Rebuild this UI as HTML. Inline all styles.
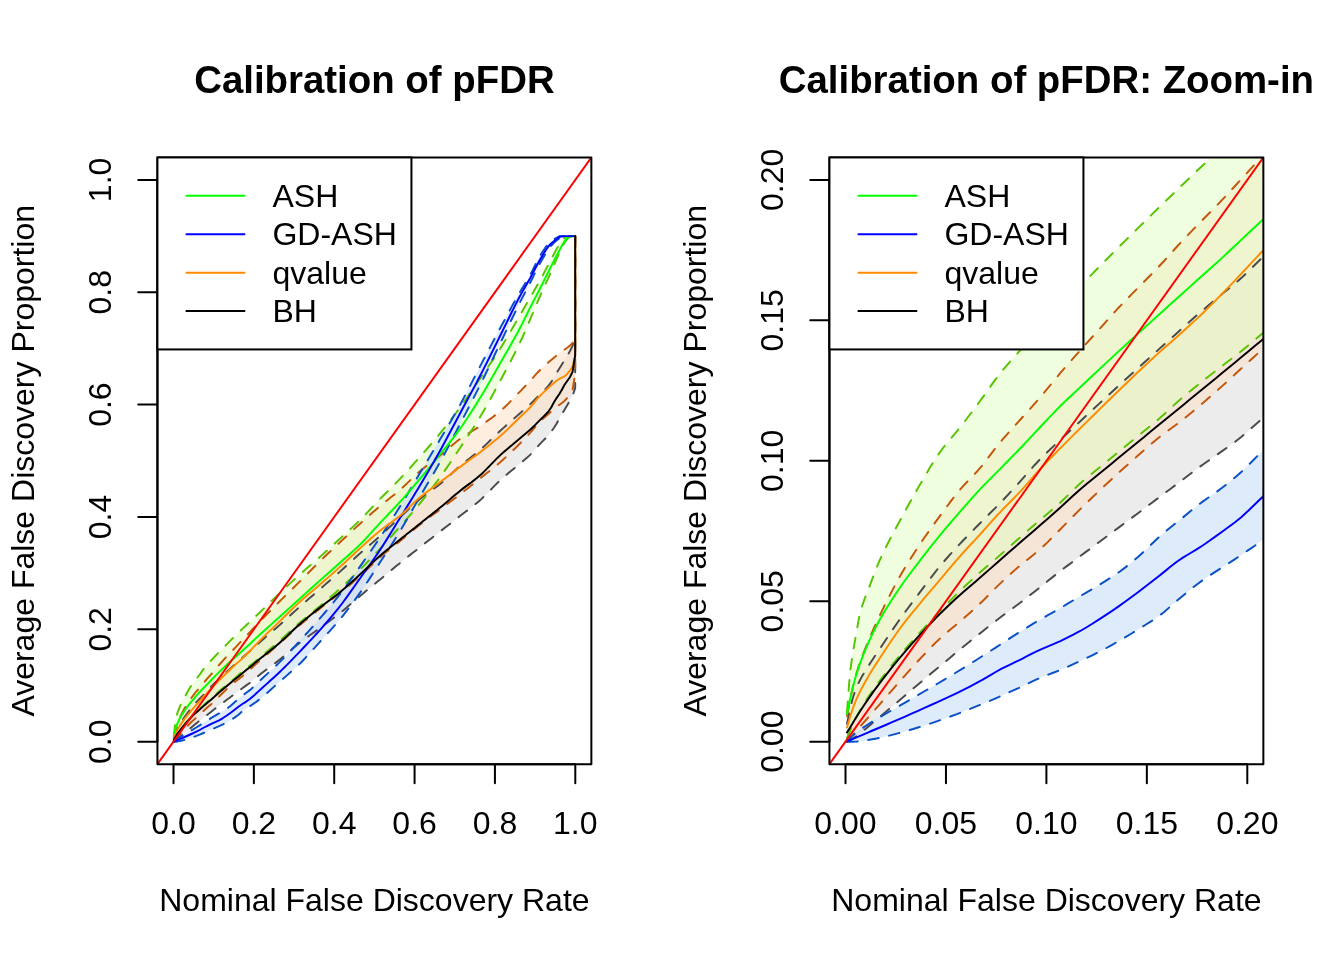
<!DOCTYPE html>
<html lang="en"><head><meta charset="utf-8"><title>Calibration of pFDR</title>
<style>
html,body{margin:0;padding:0;background:#fff;}
svg{display:block;font-family:"Liberation Sans",sans-serif;}
.ax{stroke:#000;stroke-width:2;fill:none;stroke-linecap:round;stroke-linejoin:round}
.t{font-size:32px;fill:#000}
.h{font-size:38.4px;font-weight:bold;fill:#000}
</style></head><body>
<svg width="1344" height="960" viewBox="0 0 1344 960">
<rect width="1344" height="960" fill="#fff"/>
<g id="panel0">
<clipPath id="c0"><rect x="157.44" y="157.44" width="433.92" height="606.72"/></clipPath>
<g clip-path="url(#c0)">
<path d="M173.81 741.65L175.59 740.64L177.38 739.24L179.17 737.76L180.95 736.25L184.13 733.54L188.02 730.24L191.9 726.98L195.78 723.77L199.66 720.61L203.54 717.55L207.42 714.67L211.31 711.68L215.19 708.58L219.07 705.61L222.95 702.72L226.83 699.84L230.71 696.96L234.59 694.05L238.48 691.14L242.36 688.21L246.24 685.38L250.12 682.66L254 679.61L255.3 678.45L256.59 677.31L257.88 676.24L260.55 674.11L263.22 672.06L265.88 670.05L268.55 668.08L271.22 666.1L273.88 664.12L276.55 662.1L279.22 660.02L281.88 657.87L284.55 655.64L287.22 653.36L289.88 651.05L292.55 648.75L295.22 646.49L297.88 644.29L300.55 642.17L303.22 640.14L305.88 638.17L308.55 636.24L311.21 634.33L313.88 632.43L316.55 630.52L319.21 628.58L321.88 626.61L324.55 624.65L327.21 622.7L329.88 620.73L332.55 618.74L335.21 616.73L337.88 614.67L340.55 612.56L343.21 610.38L345.88 608.14L348.55 605.85L351.21 603.54L353.88 601.23L356.55 598.93L359.21 596.66L361.88 594.44L364.55 592.24L367.21 590.05L369.88 587.87L372.54 585.7L375.21 583.53L377.88 581.35L380.54 579.15L383.21 576.94L385.88 574.71L388.54 572.48L391.21 570.25L393.88 568.03L396.54 565.82L399.21 563.64L401.88 561.49L404.54 559.35L407.21 557.24L409.88 555.14L412.54 553.04L415.21 550.95L417.88 548.87L420.54 546.77L423.21 544.69L425.87 542.6L428.54 540.52L431.21 538.45L433.87 536.37L436.54 534.3L439.21 532.22L441.87 530.14L444.54 528.06L447.21 525.98L449.87 523.9L452.54 521.83L455.21 519.75L457.87 517.66L460.54 515.58L463.21 513.53L465.87 511.51L468.54 509.49L471.21 507.46L473.87 505.38L476.54 503.23L479.21 500.99L481.87 498.61L484.54 496.06L487.2 493.38L489.87 490.63L492.54 487.87L495.2 485.14L497.87 482.5L500.54 480.01L503.2 477.63L505.87 475.32L508.54 473.06L511.2 470.84L513.87 468.63L516.54 466.41L519.2 464.18L521.87 461.94L524.54 459.77L527.2 457.54L529.87 455.13L532.54 452.4L535.2 449.43L537.87 446.37L540.54 443.42L543.2 440.67L545.87 437.95L548.53 435.05L551.2 431.75L553.87 427.94L556.53 423.66L559.2 418.9L561.87 414.27L564.53 409.69L567.2 405.22L569.87 400.73L572.53 395.93L575.2 388L575.2 236.09L575.2 236.09L575.2 336L572.53 345.91L569.87 351.24L567.2 355.81L564.53 360.17L561.87 364.48L559.2 368.81L556.53 373.19L553.87 377.6L551.2 382.07L548.53 385.63L545.87 388.57L543.2 391.24L540.54 393.86L537.87 396.57L535.2 399.25L532.54 401.87L529.87 404.42L527.2 406.88L524.54 409.27L521.87 411.64L519.2 414.01L516.54 416.37L513.87 418.71L511.2 421.04L508.54 423.37L505.87 425.72L503.2 428.1L500.54 430.51L497.87 432.98L495.2 435.53L492.54 438.13L489.87 440.75L487.2 443.34L484.54 445.88L481.87 448.34L479.21 450.68L476.54 452.91L473.87 455.04L471.21 457.12L468.54 459.18L465.87 461.25L463.21 463.36L460.54 465.55L457.87 467.84L455.21 470.24L452.54 472.7L449.87 475.19L447.21 477.67L444.54 480.09L441.87 482.43L439.21 484.64L436.54 486.72L433.87 488.7L431.21 490.62L428.54 492.53L425.87 494.46L423.21 496.45L420.54 498.56L417.88 500.79L415.21 503.12L412.54 505.54L409.88 508.01L407.21 510.52L404.54 513.04L401.88 515.55L399.21 518.03L396.54 520.54L393.88 523.07L391.21 525.61L388.54 528.15L385.88 530.67L383.21 533.16L380.54 535.61L377.88 537.99L375.21 540.32L372.54 542.62L369.88 544.89L367.21 547.16L364.55 549.44L361.88 551.75L359.21 554.1L356.55 556.5L353.88 558.93L351.21 561.37L348.55 563.82L345.88 566.27L343.21 568.71L340.55 571.11L337.88 573.48L335.21 575.84L332.55 578.17L329.88 580.5L327.21 582.82L324.55 585.13L321.88 587.46L319.21 589.79L316.55 592.11L313.88 594.43L311.21 596.76L308.55 599.08L305.88 601.41L303.22 603.75L300.55 606.11L297.88 608.49L295.22 610.9L292.55 613.33L289.88 615.76L287.22 618.19L284.55 620.62L281.88 623.02L279.22 625.39L276.55 627.72L273.88 630.02L271.22 632.3L268.55 634.57L265.88 636.86L263.22 639.17L260.55 641.52L257.88 643.94L256.59 645.14L255.3 646.41L254 647.69L250.12 651.11L246.24 654.31L242.36 657.66L238.48 661.15L234.59 664.64L230.71 668.15L226.83 671.7L222.95 675.28L219.07 678.9L215.19 682.53L211.31 686.4L207.42 690.75L203.54 694.88L199.66 698.75L195.78 702.79L191.9 707.2L188.02 712.31L184.13 717.54L180.95 722.24L179.17 724.89L177.38 727.67L175.59 731.11L173.81 738.15Z" fill="#d9d9d9" fill-opacity="0.5" stroke="none"/>
<path d="M173.81 741.65L175.59 739.65L177.38 737.6L179.17 735.57L180.95 733.53L184.13 729.88L188.02 725.55L191.9 721.53L195.78 718.21L199.66 714.77L203.54 710.92L207.42 707.32L211.31 704.16L215.19 700.51L219.07 696.57L222.95 692.76L226.83 689.11L230.71 685.6L234.59 682.19L238.48 679.14L242.36 676.17L246.24 672.87L250.12 669.39L254 665.83L255.3 664.65L256.59 663.48L257.88 662.32L260.55 659.96L263.22 657.62L265.88 655.3L268.55 652.99L271.22 650.68L273.88 648.36L276.55 646.04L279.22 643.69L281.88 641.32L284.55 638.91L287.22 636.48L289.88 634.04L292.55 631.61L295.22 629.21L297.88 626.84L300.55 624.53L303.22 622.25L305.88 620.01L308.55 617.79L311.21 615.6L313.88 613.43L316.55 611.27L319.21 609.13L321.88 607.01L324.55 604.94L327.21 602.9L329.88 600.87L332.55 598.84L335.21 596.79L337.88 594.7L340.55 592.56L343.21 590.38L345.88 588.17L348.55 585.93L351.21 583.67L353.88 581.37L356.55 579.05L359.21 576.7L361.88 574.3L364.55 571.82L367.21 569.28L369.88 566.72L372.54 564.16L375.21 561.64L377.88 559.18L380.54 556.83L383.21 554.56L385.88 552.35L388.54 550.19L391.21 548.05L393.88 545.93L396.54 543.8L399.21 541.64L401.88 539.46L404.54 537.25L407.21 535.04L409.88 532.82L412.54 530.62L415.21 528.44L417.88 526.29L420.54 524.17L423.21 522.11L425.87 520.07L428.54 518.06L431.21 516.07L433.87 514.08L436.54 512.1L439.21 510.1L441.87 508.09L444.54 506.09L447.21 504.09L449.87 502.09L452.54 500.09L455.21 498.07L457.87 496.04L460.54 493.98L463.21 491.9L465.87 489.8L468.54 487.68L471.21 485.55L473.87 483.41L476.54 481.27L479.21 479.14L481.87 477.01L484.54 474.91L487.2 472.82L489.87 470.73L492.54 468.6L495.2 466.44L497.87 464.22L500.54 461.93L503.2 459.57L505.87 457.14L508.54 454.66L511.2 452.13L513.87 449.56L516.54 446.94L519.2 444.3L521.87 441.61L524.54 438.86L527.2 436.03L529.87 433.14L532.54 430.08L535.2 426.88L537.87 423.77L540.54 420.97L543.2 418.5L545.87 416.2L548.53 413.96L551.2 411.65L553.87 409.35L556.53 407.15L559.2 405.03L561.87 403.02L564.53 400.94L567.2 397.95L569.87 394.19L572.53 389.92L575.2 374L575.2 236.09L575.2 236.09L575.2 336L572.53 342.95L569.87 345.62L567.2 347.7L564.53 349.65L561.87 351.62L559.2 353.6L556.53 355.6L553.87 357.72L551.2 359.96L548.53 362.27L545.87 364.58L543.2 366.96L540.54 369.47L537.87 372.21L535.2 375.17L532.54 378.19L529.87 381.14L527.2 383.99L524.54 386.8L521.87 389.58L519.2 392.32L516.54 395.08L513.87 397.86L511.2 400.62L508.54 403.33L505.87 405.96L503.2 408.47L500.54 410.84L497.87 413.06L495.2 415.17L492.54 417.18L489.87 419.13L487.2 421.02L484.54 422.87L481.87 424.71L479.21 426.54L476.54 428.31L473.87 430L471.21 431.66L468.54 433.32L465.87 435.01L463.21 436.76L460.54 438.61L457.87 440.59L455.21 442.7L452.54 444.9L449.87 447.16L447.21 449.45L444.54 451.73L441.87 453.97L439.21 456.13L436.54 458.23L433.87 460.28L431.21 462.31L428.54 464.35L425.87 466.42L423.21 468.54L420.54 470.74L417.88 473.05L415.21 475.49L412.54 478.01L409.88 480.58L407.21 483.15L404.54 485.68L401.88 488.14L399.21 490.48L396.54 492.73L393.88 494.91L391.21 497.04L388.54 499.16L385.88 501.28L383.21 503.44L380.54 505.64L377.88 507.91L375.21 510.2L372.54 512.52L369.88 514.86L367.21 517.23L364.55 519.61L361.88 522L359.21 524.41L356.55 526.85L353.88 529.31L351.21 531.79L348.55 534.28L345.88 536.78L343.21 539.28L340.55 541.79L337.88 544.28L335.21 546.78L332.55 549.27L329.88 551.77L327.21 554.28L324.55 556.82L321.88 559.38L319.21 561.97L316.55 564.6L313.88 567.27L311.21 569.97L308.55 572.67L305.88 575.38L303.22 578.08L300.55 580.75L297.88 583.4L295.22 586.03L292.55 588.64L289.88 591.25L287.22 593.86L284.55 596.48L281.88 599.12L279.22 601.78L276.55 604.46L273.88 607.13L271.22 609.81L268.55 612.51L265.88 615.22L263.22 617.96L260.55 620.73L257.88 623.53L256.59 624.9L255.3 626.31L254 627.73L250.12 631.95L246.24 635.99L242.36 639.96L238.48 644.15L234.59 648.3L230.71 652.22L226.83 656.31L222.95 660.65L219.07 665L215.19 669.5L211.31 674.13L207.42 678.44L203.54 682.93L199.66 687.81L195.78 692.04L191.9 697.23L188.02 702.76L184.13 709.08L180.95 715.23L179.17 719.04L177.38 723.27L175.59 728.37L173.81 736.55Z" fill="#fedec0" fill-opacity="0.5" stroke="none"/>
<path d="M173.81 740.95L175.59 736.94L177.38 733.85L179.17 731.17L180.95 728.73L184.13 724.74L188.02 720.29L191.9 716.1L195.78 712.14L199.66 708.5L203.54 705.14L207.42 701.7L211.31 698.3L215.19 695L219.07 691.34L222.95 687.95L226.83 684.78L230.71 681.6L234.59 678.46L238.48 675.05L242.36 671.64L246.24 668.54L250.12 665.55L254 662.49L255.3 661.4L256.59 660.31L257.88 659.22L260.55 656.99L263.22 654.77L265.88 652.53L268.55 650.3L271.22 648.05L273.88 645.78L276.55 643.5L279.22 641.18L281.88 638.83L284.55 636.43L287.22 633.98L289.88 631.52L292.55 629.06L295.22 626.63L297.88 624.25L300.55 621.93L303.22 619.68L305.88 617.49L308.55 615.33L311.21 613.18L313.88 611.04L316.55 608.87L319.21 606.66L321.88 604.41L324.55 602.15L327.21 599.87L329.88 597.57L332.55 595.25L335.21 592.9L337.88 590.52L340.55 588.1L343.21 585.65L345.88 583.16L348.55 580.64L351.21 578.09L353.88 575.52L356.55 572.91L359.21 570.28L361.88 567.63L364.55 564.94L367.21 562.22L369.88 559.47L372.54 556.69L375.21 553.89L377.88 551.07L380.54 548.22L383.21 545.33L385.88 542.42L388.54 539.48L391.21 536.51L393.88 533.52L396.54 530.51L399.21 527.5L401.88 524.47L404.54 521.45L407.21 518.42L409.88 515.37L412.54 512.29L415.21 509.16L417.88 505.98L420.54 502.73L423.21 499.43L425.87 496.08L428.54 492.67L431.21 489.21L433.87 485.69L436.54 482.12L439.21 478.49L441.87 474.79L444.54 471L447.21 467.13L449.87 463.2L452.54 459.22L455.21 455.22L457.87 451.2L460.54 447.19L463.21 443.2L465.87 439.21L468.54 435.2L471.21 431.15L473.87 427.04L476.54 422.83L479.21 418.51L481.87 414.06L484.54 409.46L487.2 404.75L489.87 399.95L492.54 395.07L495.2 390.13L497.87 385.17L500.54 380.2L503.2 375.23L505.87 370.25L508.54 365.23L511.2 360.14L513.87 354.95L516.54 349.63L519.2 344.17L521.87 338.48L524.54 332.52L527.2 326.39L529.87 320.2L532.54 313.93L535.2 307.52L537.87 301.15L540.54 294.99L543.2 289.11L545.87 283.36L548.53 277.57L551.2 271.54L553.87 265.3L556.53 259.21L559.2 253.28L561.87 247.66L564.53 242.67L567.2 239.04L569.87 236.83L572.53 236.5L575.2 236.1L575.2 236.1L572.53 236.1L569.87 236.1L567.2 236.62L564.53 237.76L561.87 240.59L559.2 244.39L556.53 249.13L553.87 254.1L551.2 259.21L548.53 264.28L545.87 269.35L543.2 274.38L540.54 279.32L537.87 284.13L535.2 288.84L532.54 293.49L529.87 298.13L527.2 302.75L524.54 307.34L521.87 311.9L519.2 316.46L516.54 321.06L513.87 325.68L511.2 330.3L508.54 334.88L505.87 339.4L503.2 343.83L500.54 348.15L497.87 352.32L495.2 356.39L492.54 360.37L489.87 364.28L487.2 368.16L484.54 372.01L481.87 375.87L479.21 379.76L476.54 383.68L473.87 387.6L471.21 391.52L468.54 395.41L465.87 399.26L463.21 403.05L460.54 406.76L457.87 410.4L455.21 413.99L452.54 417.53L449.87 421.02L447.21 424.46L444.54 427.85L441.87 431.19L439.21 434.47L436.54 437.68L433.87 440.84L431.21 443.94L428.54 447.01L425.87 450.05L423.21 453.07L420.54 456.09L417.88 459.1L415.21 462.11L412.54 465.11L409.88 468.08L407.21 471.02L404.54 473.94L401.88 476.81L399.21 479.63L396.54 482.39L393.88 485.09L391.21 487.76L388.54 490.41L385.88 493.06L383.21 495.73L380.54 498.44L377.88 501.21L375.21 504.03L372.54 506.88L369.88 509.74L367.21 512.58L364.55 515.38L361.88 518.12L359.21 520.77L356.55 523.35L353.88 525.87L351.21 528.35L348.55 530.8L345.88 533.23L343.21 535.66L340.55 538.1L337.88 540.55L335.21 543L332.55 545.44L329.88 547.88L327.21 550.3L324.55 552.72L321.88 555.12L319.21 557.5L316.55 559.85L313.88 562.17L311.21 564.48L308.55 566.78L305.88 569.1L303.22 571.43L300.55 573.81L297.88 576.22L295.22 578.66L292.55 581.12L289.88 583.6L287.22 586.09L284.55 588.6L281.88 591.12L279.22 593.64L276.55 596.19L273.88 598.76L271.22 601.35L268.55 603.95L265.88 606.55L263.22 609.13L260.55 611.71L257.88 614.26L256.59 615.48L255.3 616.7L254 617.9L250.12 621.54L246.24 625.21L242.36 628.9L238.48 632.64L234.59 636.42L230.71 640.24L226.83 644.11L222.95 648.03L219.07 652.02L215.19 656.08L211.31 660.25L207.42 664.55L203.54 669.18L199.66 674.58L195.78 679.63L191.9 684.49L188.02 690.93L184.13 697.96L180.95 704.07L179.17 708.32L177.38 712.98L175.59 720.39L173.81 735.75Z" fill="#dffdc0" fill-opacity="0.5" stroke="none"/>
<path d="M173.81 741.69L175.59 741.68L177.38 741.46L179.17 741.16L180.95 740.79L184.13 739.99L188.02 738.85L191.9 737.57L195.78 736.17L199.66 734.64L203.54 733.01L207.42 731.28L211.31 729.43L215.19 727.85L219.07 726.19L222.95 724.36L226.83 722.31L230.71 720.05L234.59 717.64L238.48 714.66L242.36 711.36L246.24 708.52L250.12 706L254 703.43L255.3 702.54L256.59 701.6L257.88 700.62L260.55 698.51L263.22 696.3L265.88 694.01L268.55 691.66L271.22 689.28L273.88 686.87L276.55 684.47L279.22 682.09L281.88 679.75L284.55 677.44L287.22 675.13L289.88 672.81L292.55 670.45L295.22 668.04L297.88 665.55L300.55 662.96L303.22 660.24L305.88 657.42L308.55 654.51L311.21 651.55L313.88 648.55L316.55 645.55L319.21 642.57L321.88 639.63L324.55 636.72L327.21 633.82L329.88 630.9L332.55 627.95L335.21 624.93L337.88 621.84L340.55 618.63L343.21 615.33L345.88 611.95L348.55 608.48L351.21 604.93L353.88 601.32L356.55 597.65L359.21 593.91L361.88 590.11L364.55 586.19L367.21 582.18L369.88 578.1L372.54 573.97L375.21 569.82L377.88 565.68L380.54 561.56L383.21 557.47L385.88 553.39L388.54 549.3L391.21 545.18L393.88 541.02L396.54 536.8L399.21 532.49L401.88 528.08L404.54 523.56L407.21 518.95L409.88 514.27L412.54 509.57L415.21 504.87L417.88 500.19L420.54 495.57L423.21 491.01L425.87 486.5L428.54 482.01L431.21 477.51L433.87 472.96L436.54 468.34L439.21 463.62L441.87 458.79L444.54 453.84L447.21 448.79L449.87 443.69L452.54 438.54L455.21 433.37L457.87 428.2L460.54 423.06L463.21 417.95L465.87 412.84L468.54 407.72L471.21 402.59L473.87 397.41L476.54 392.18L479.21 386.89L481.87 381.52L484.54 376.05L487.2 370.52L489.87 364.94L492.54 359.33L495.2 353.72L497.87 348.13L500.54 342.58L503.2 337.02L505.87 331.44L508.54 325.85L511.2 320.28L513.87 314.75L516.54 309.28L519.2 303.89L521.87 298.62L524.54 293.49L527.2 288.39L529.87 283.25L532.54 277.94L535.2 272.51L537.87 267.24L540.54 262.36L543.2 257.71L545.87 253.29L548.53 249.27L551.2 245.81L553.87 242.87L556.53 240.44L559.2 238.44L561.87 237.08L564.53 236.22L567.2 236.2L569.87 236.2L572.53 236.2L575.2 236.1L575.2 236.1L572.53 236.1L569.87 236.1L567.2 236.1L564.53 236.1L561.87 236.1L559.2 236.22L556.53 237.76L553.87 239.46L551.2 241.16L548.53 243.52L545.87 246.79L543.2 250.7L540.54 254.94L537.87 259.58L535.2 264.95L532.54 270.5L529.87 275.63L527.2 280.18L524.54 284.47L521.87 288.76L519.2 293.28L516.54 297.97L513.87 302.76L511.2 307.63L508.54 312.56L505.87 317.53L503.2 322.51L500.54 327.5L497.87 332.48L495.2 337.5L492.54 342.55L489.87 347.62L487.2 352.71L484.54 357.82L481.87 362.92L479.21 368.02L476.54 373.19L473.87 378.4L471.21 383.62L468.54 388.83L465.87 393.99L463.21 399.06L460.54 404.01L457.87 408.83L455.21 413.55L452.54 418.19L449.87 422.77L447.21 427.3L444.54 431.81L441.87 436.32L439.21 440.85L436.54 445.35L433.87 449.83L431.21 454.29L428.54 458.74L425.87 463.19L423.21 467.64L420.54 472.09L417.88 476.57L415.21 481.08L412.54 485.6L409.88 490.12L407.21 494.62L404.54 499.07L401.88 503.46L399.21 507.77L396.54 512.03L393.88 516.24L391.21 520.4L388.54 524.53L385.88 528.61L383.21 532.67L380.54 536.68L377.88 540.67L375.21 544.61L372.54 548.51L369.88 552.38L367.21 556.22L364.55 560.04L361.88 563.84L359.21 567.62L356.55 571.41L353.88 575.2L351.21 578.97L348.55 582.7L345.88 586.38L343.21 589.98L340.55 593.49L337.88 596.91L335.21 600.24L332.55 603.5L329.88 606.71L327.21 609.88L324.55 613.01L321.88 616.11L319.21 619.21L316.55 622.28L313.88 625.32L311.21 628.32L308.55 631.31L305.88 634.26L303.22 637.19L300.55 640.1L297.88 643L295.22 645.89L292.55 648.76L289.88 651.6L287.22 654.41L284.55 657.19L281.88 659.91L279.22 662.58L276.55 665.17L273.88 667.7L271.22 670.19L268.55 672.65L265.88 675.1L263.22 677.56L260.55 680.05L257.88 682.58L256.59 683.84L255.3 685.15L254 686.46L250.12 689.9L246.24 692.77L242.36 695.7L238.48 698.85L234.59 702.3L230.71 705.84L226.83 708.71L222.95 711.11L219.07 713.4L215.19 715.71L211.31 717.94L207.42 720.34L203.54 722.87L199.66 725.34L195.78 727.76L191.9 730.09L188.02 732.36L184.13 734.61L180.95 736.45L179.17 737.51L177.38 738.64L175.59 739.92L173.81 741.65Z" fill="#bdd7f7" fill-opacity="0.5" stroke="none"/>
<path d="M173.81 741.65L175.59 740.64L177.38 739.24L179.17 737.76L180.95 736.25L184.13 733.54L188.02 730.24L191.9 726.98L195.78 723.77L199.66 720.61L203.54 717.55L207.42 714.67L211.31 711.68L215.19 708.58L219.07 705.61L222.95 702.72L226.83 699.84L230.71 696.96L234.59 694.05L238.48 691.14L242.36 688.21L246.24 685.38L250.12 682.66L254 679.61L255.3 678.45L256.59 677.31L257.88 676.24L260.55 674.11L263.22 672.06L265.88 670.05L268.55 668.08L271.22 666.1L273.88 664.12L276.55 662.1L279.22 660.02L281.88 657.87L284.55 655.64L287.22 653.36L289.88 651.05L292.55 648.75L295.22 646.49L297.88 644.29L300.55 642.17L303.22 640.14L305.88 638.17L308.55 636.24L311.21 634.33L313.88 632.43L316.55 630.52L319.21 628.58L321.88 626.61L324.55 624.65L327.21 622.7L329.88 620.73L332.55 618.74L335.21 616.73L337.88 614.67L340.55 612.56L343.21 610.38L345.88 608.14L348.55 605.85L351.21 603.54L353.88 601.23L356.55 598.93L359.21 596.66L361.88 594.44L364.55 592.24L367.21 590.05L369.88 587.87L372.54 585.7L375.21 583.53L377.88 581.35L380.54 579.15L383.21 576.94L385.88 574.71L388.54 572.48L391.21 570.25L393.88 568.03L396.54 565.82L399.21 563.64L401.88 561.49L404.54 559.35L407.21 557.24L409.88 555.14L412.54 553.04L415.21 550.95L417.88 548.87L420.54 546.77L423.21 544.69L425.87 542.6L428.54 540.52L431.21 538.45L433.87 536.37L436.54 534.3L439.21 532.22L441.87 530.14L444.54 528.06L447.21 525.98L449.87 523.9L452.54 521.83L455.21 519.75L457.87 517.66L460.54 515.58L463.21 513.53L465.87 511.51L468.54 509.49L471.21 507.46L473.87 505.38L476.54 503.23L479.21 500.99L481.87 498.61L484.54 496.06L487.2 493.38L489.87 490.63L492.54 487.87L495.2 485.14L497.87 482.5L500.54 480.01L503.2 477.63L505.87 475.32L508.54 473.06L511.2 470.84L513.87 468.63L516.54 466.41L519.2 464.18L521.87 461.94L524.54 459.77L527.2 457.54L529.87 455.13L532.54 452.4L535.2 449.43L537.87 446.37L540.54 443.42L543.2 440.67L545.87 437.95L548.53 435.05L551.2 431.75L553.87 427.94L556.53 423.66L559.2 418.9L561.87 414.27L564.53 409.69L567.2 405.22L569.87 400.73L572.53 395.93L575.2 388L575.2 236.09" fill="none" stroke="#4a4a4c" stroke-width="1.95" stroke-dasharray="10.67 10.67" stroke-linecap="round" stroke-linejoin="round"/>
<path d="M173.81 738.15L175.59 731.11L177.38 727.67L179.17 724.89L180.95 722.24L184.13 717.54L188.02 712.31L191.9 707.2L195.78 702.79L199.66 698.75L203.54 694.88L207.42 690.75L211.31 686.4L215.19 682.53L219.07 678.9L222.95 675.28L226.83 671.7L230.71 668.15L234.59 664.64L238.48 661.15L242.36 657.66L246.24 654.31L250.12 651.11L254 647.69L255.3 646.41L256.59 645.14L257.88 643.94L260.55 641.52L263.22 639.17L265.88 636.86L268.55 634.57L271.22 632.3L273.88 630.02L276.55 627.72L279.22 625.39L281.88 623.02L284.55 620.62L287.22 618.19L289.88 615.76L292.55 613.33L295.22 610.9L297.88 608.49L300.55 606.11L303.22 603.75L305.88 601.41L308.55 599.08L311.21 596.76L313.88 594.43L316.55 592.11L319.21 589.79L321.88 587.46L324.55 585.13L327.21 582.82L329.88 580.5L332.55 578.17L335.21 575.84L337.88 573.48L340.55 571.11L343.21 568.71L345.88 566.27L348.55 563.82L351.21 561.37L353.88 558.93L356.55 556.5L359.21 554.1L361.88 551.75L364.55 549.44L367.21 547.16L369.88 544.89L372.54 542.62L375.21 540.32L377.88 537.99L380.54 535.61L383.21 533.16L385.88 530.67L388.54 528.15L391.21 525.61L393.88 523.07L396.54 520.54L399.21 518.03L401.88 515.55L404.54 513.04L407.21 510.52L409.88 508.01L412.54 505.54L415.21 503.12L417.88 500.79L420.54 498.56L423.21 496.45L425.87 494.46L428.54 492.53L431.21 490.62L433.87 488.7L436.54 486.72L439.21 484.64L441.87 482.43L444.54 480.09L447.21 477.67L449.87 475.19L452.54 472.7L455.21 470.24L457.87 467.84L460.54 465.55L463.21 463.36L465.87 461.25L468.54 459.18L471.21 457.12L473.87 455.04L476.54 452.91L479.21 450.68L481.87 448.34L484.54 445.88L487.2 443.34L489.87 440.75L492.54 438.13L495.2 435.53L497.87 432.98L500.54 430.51L503.2 428.1L505.87 425.72L508.54 423.37L511.2 421.04L513.87 418.71L516.54 416.37L519.2 414.01L521.87 411.64L524.54 409.27L527.2 406.88L529.87 404.42L532.54 401.87L535.2 399.25L537.87 396.57L540.54 393.86L543.2 391.24L545.87 388.57L548.53 385.63L551.2 382.07L553.87 377.6L556.53 373.19L559.2 368.81L561.87 364.48L564.53 360.17L567.2 355.81L569.87 351.24L572.53 345.91L575.2 336L575.2 236.09" fill="none" stroke="#4a4a4c" stroke-width="1.95" stroke-dasharray="10.67 10.67" stroke-linecap="round" stroke-linejoin="round"/>
<path d="M173.81 741.65L175.59 739.65L177.38 737.6L179.17 735.57L180.95 733.53L184.13 729.88L188.02 725.55L191.9 721.53L195.78 718.21L199.66 714.77L203.54 710.92L207.42 707.32L211.31 704.16L215.19 700.51L219.07 696.57L222.95 692.76L226.83 689.11L230.71 685.6L234.59 682.19L238.48 679.14L242.36 676.17L246.24 672.87L250.12 669.39L254 665.83L255.3 664.65L256.59 663.48L257.88 662.32L260.55 659.96L263.22 657.62L265.88 655.3L268.55 652.99L271.22 650.68L273.88 648.36L276.55 646.04L279.22 643.69L281.88 641.32L284.55 638.91L287.22 636.48L289.88 634.04L292.55 631.61L295.22 629.21L297.88 626.84L300.55 624.53L303.22 622.25L305.88 620.01L308.55 617.79L311.21 615.6L313.88 613.43L316.55 611.27L319.21 609.13L321.88 607.01L324.55 604.94L327.21 602.9L329.88 600.87L332.55 598.84L335.21 596.79L337.88 594.7L340.55 592.56L343.21 590.38L345.88 588.17L348.55 585.93L351.21 583.67L353.88 581.37L356.55 579.05L359.21 576.7L361.88 574.3L364.55 571.82L367.21 569.28L369.88 566.72L372.54 564.16L375.21 561.64L377.88 559.18L380.54 556.83L383.21 554.56L385.88 552.35L388.54 550.19L391.21 548.05L393.88 545.93L396.54 543.8L399.21 541.64L401.88 539.46L404.54 537.25L407.21 535.04L409.88 532.82L412.54 530.62L415.21 528.44L417.88 526.29L420.54 524.17L423.21 522.11L425.87 520.07L428.54 518.06L431.21 516.07L433.87 514.08L436.54 512.1L439.21 510.1L441.87 508.09L444.54 506.09L447.21 504.09L449.87 502.09L452.54 500.09L455.21 498.07L457.87 496.04L460.54 493.98L463.21 491.9L465.87 489.8L468.54 487.68L471.21 485.55L473.87 483.41L476.54 481.27L479.21 479.14L481.87 477.01L484.54 474.91L487.2 472.82L489.87 470.73L492.54 468.6L495.2 466.44L497.87 464.22L500.54 461.93L503.2 459.57L505.87 457.14L508.54 454.66L511.2 452.13L513.87 449.56L516.54 446.94L519.2 444.3L521.87 441.61L524.54 438.86L527.2 436.03L529.87 433.14L532.54 430.08L535.2 426.88L537.87 423.77L540.54 420.97L543.2 418.5L545.87 416.2L548.53 413.96L551.2 411.65L553.87 409.35L556.53 407.15L559.2 405.03L561.87 403.02L564.53 400.94L567.2 397.95L569.87 394.19L572.53 389.92L575.2 374L575.2 236.09" fill="none" stroke="#c4560a" stroke-width="1.95" stroke-dasharray="10.67 10.67" stroke-linecap="round" stroke-linejoin="round"/>
<path d="M173.81 736.55L175.59 728.37L177.38 723.27L179.17 719.04L180.95 715.23L184.13 709.08L188.02 702.76L191.9 697.23L195.78 692.04L199.66 687.81L203.54 682.93L207.42 678.44L211.31 674.13L215.19 669.5L219.07 665L222.95 660.65L226.83 656.31L230.71 652.22L234.59 648.3L238.48 644.15L242.36 639.96L246.24 635.99L250.12 631.95L254 627.73L255.3 626.31L256.59 624.9L257.88 623.53L260.55 620.73L263.22 617.96L265.88 615.22L268.55 612.51L271.22 609.81L273.88 607.13L276.55 604.46L279.22 601.78L281.88 599.12L284.55 596.48L287.22 593.86L289.88 591.25L292.55 588.64L295.22 586.03L297.88 583.4L300.55 580.75L303.22 578.08L305.88 575.38L308.55 572.67L311.21 569.97L313.88 567.27L316.55 564.6L319.21 561.97L321.88 559.38L324.55 556.82L327.21 554.28L329.88 551.77L332.55 549.27L335.21 546.78L337.88 544.28L340.55 541.79L343.21 539.28L345.88 536.78L348.55 534.28L351.21 531.79L353.88 529.31L356.55 526.85L359.21 524.41L361.88 522L364.55 519.61L367.21 517.23L369.88 514.86L372.54 512.52L375.21 510.2L377.88 507.91L380.54 505.64L383.21 503.44L385.88 501.28L388.54 499.16L391.21 497.04L393.88 494.91L396.54 492.73L399.21 490.48L401.88 488.14L404.54 485.68L407.21 483.15L409.88 480.58L412.54 478.01L415.21 475.49L417.88 473.05L420.54 470.74L423.21 468.54L425.87 466.42L428.54 464.35L431.21 462.31L433.87 460.28L436.54 458.23L439.21 456.13L441.87 453.97L444.54 451.73L447.21 449.45L449.87 447.16L452.54 444.9L455.21 442.7L457.87 440.59L460.54 438.61L463.21 436.76L465.87 435.01L468.54 433.32L471.21 431.66L473.87 430L476.54 428.31L479.21 426.54L481.87 424.71L484.54 422.87L487.2 421.02L489.87 419.13L492.54 417.18L495.2 415.17L497.87 413.06L500.54 410.84L503.2 408.47L505.87 405.96L508.54 403.33L511.2 400.62L513.87 397.86L516.54 395.08L519.2 392.32L521.87 389.58L524.54 386.8L527.2 383.99L529.87 381.14L532.54 378.19L535.2 375.17L537.87 372.21L540.54 369.47L543.2 366.96L545.87 364.58L548.53 362.27L551.2 359.96L553.87 357.72L556.53 355.6L559.2 353.6L561.87 351.62L564.53 349.65L567.2 347.7L569.87 345.62L572.53 342.95L575.2 336L575.2 236.09" fill="none" stroke="#c4560a" stroke-width="1.95" stroke-dasharray="10.67 10.67" stroke-linecap="round" stroke-linejoin="round"/>
<path d="M173.81 740.95L175.59 736.94L177.38 733.85L179.17 731.17L180.95 728.73L184.13 724.74L188.02 720.29L191.9 716.1L195.78 712.14L199.66 708.5L203.54 705.14L207.42 701.7L211.31 698.3L215.19 695L219.07 691.34L222.95 687.95L226.83 684.78L230.71 681.6L234.59 678.46L238.48 675.05L242.36 671.64L246.24 668.54L250.12 665.55L254 662.49L255.3 661.4L256.59 660.31L257.88 659.22L260.55 656.99L263.22 654.77L265.88 652.53L268.55 650.3L271.22 648.05L273.88 645.78L276.55 643.5L279.22 641.18L281.88 638.83L284.55 636.43L287.22 633.98L289.88 631.52L292.55 629.06L295.22 626.63L297.88 624.25L300.55 621.93L303.22 619.68L305.88 617.49L308.55 615.33L311.21 613.18L313.88 611.04L316.55 608.87L319.21 606.66L321.88 604.41L324.55 602.15L327.21 599.87L329.88 597.57L332.55 595.25L335.21 592.9L337.88 590.52L340.55 588.1L343.21 585.65L345.88 583.16L348.55 580.64L351.21 578.09L353.88 575.52L356.55 572.91L359.21 570.28L361.88 567.63L364.55 564.94L367.21 562.22L369.88 559.47L372.54 556.69L375.21 553.89L377.88 551.07L380.54 548.22L383.21 545.33L385.88 542.42L388.54 539.48L391.21 536.51L393.88 533.52L396.54 530.51L399.21 527.5L401.88 524.47L404.54 521.45L407.21 518.42L409.88 515.37L412.54 512.29L415.21 509.16L417.88 505.98L420.54 502.73L423.21 499.43L425.87 496.08L428.54 492.67L431.21 489.21L433.87 485.69L436.54 482.12L439.21 478.49L441.87 474.79L444.54 471L447.21 467.13L449.87 463.2L452.54 459.22L455.21 455.22L457.87 451.2L460.54 447.19L463.21 443.2L465.87 439.21L468.54 435.2L471.21 431.15L473.87 427.04L476.54 422.83L479.21 418.51L481.87 414.06L484.54 409.46L487.2 404.75L489.87 399.95L492.54 395.07L495.2 390.13L497.87 385.17L500.54 380.2L503.2 375.23L505.87 370.25L508.54 365.23L511.2 360.14L513.87 354.95L516.54 349.63L519.2 344.17L521.87 338.48L524.54 332.52L527.2 326.39L529.87 320.2L532.54 313.93L535.2 307.52L537.87 301.15L540.54 294.99L543.2 289.11L545.87 283.36L548.53 277.57L551.2 271.54L553.87 265.3L556.53 259.21L559.2 253.28L561.87 247.66L564.53 242.67L567.2 239.04L569.87 236.83L572.53 236.5L575.2 236.1" fill="none" stroke="#58c400" stroke-width="1.95" stroke-dasharray="10.67 10.67" stroke-linecap="round" stroke-linejoin="round"/>
<path d="M173.81 735.75L175.59 720.39L177.38 712.98L179.17 708.32L180.95 704.07L184.13 697.96L188.02 690.93L191.9 684.49L195.78 679.63L199.66 674.58L203.54 669.18L207.42 664.55L211.31 660.25L215.19 656.08L219.07 652.02L222.95 648.03L226.83 644.11L230.71 640.24L234.59 636.42L238.48 632.64L242.36 628.9L246.24 625.21L250.12 621.54L254 617.9L255.3 616.7L256.59 615.48L257.88 614.26L260.55 611.71L263.22 609.13L265.88 606.55L268.55 603.95L271.22 601.35L273.88 598.76L276.55 596.19L279.22 593.64L281.88 591.12L284.55 588.6L287.22 586.09L289.88 583.6L292.55 581.12L295.22 578.66L297.88 576.22L300.55 573.81L303.22 571.43L305.88 569.1L308.55 566.78L311.21 564.48L313.88 562.17L316.55 559.85L319.21 557.5L321.88 555.12L324.55 552.72L327.21 550.3L329.88 547.88L332.55 545.44L335.21 543L337.88 540.55L340.55 538.1L343.21 535.66L345.88 533.23L348.55 530.8L351.21 528.35L353.88 525.87L356.55 523.35L359.21 520.77L361.88 518.12L364.55 515.38L367.21 512.58L369.88 509.74L372.54 506.88L375.21 504.03L377.88 501.21L380.54 498.44L383.21 495.73L385.88 493.06L388.54 490.41L391.21 487.76L393.88 485.09L396.54 482.39L399.21 479.63L401.88 476.81L404.54 473.94L407.21 471.02L409.88 468.08L412.54 465.11L415.21 462.11L417.88 459.1L420.54 456.09L423.21 453.07L425.87 450.05L428.54 447.01L431.21 443.94L433.87 440.84L436.54 437.68L439.21 434.47L441.87 431.19L444.54 427.85L447.21 424.46L449.87 421.02L452.54 417.53L455.21 413.99L457.87 410.4L460.54 406.76L463.21 403.05L465.87 399.26L468.54 395.41L471.21 391.52L473.87 387.6L476.54 383.68L479.21 379.76L481.87 375.87L484.54 372.01L487.2 368.16L489.87 364.28L492.54 360.37L495.2 356.39L497.87 352.32L500.54 348.15L503.2 343.83L505.87 339.4L508.54 334.88L511.2 330.3L513.87 325.68L516.54 321.06L519.2 316.46L521.87 311.9L524.54 307.34L527.2 302.75L529.87 298.13L532.54 293.49L535.2 288.84L537.87 284.13L540.54 279.32L543.2 274.38L545.87 269.35L548.53 264.28L551.2 259.21L553.87 254.1L556.53 249.13L559.2 244.39L561.87 240.59L564.53 237.76L567.2 236.62L569.87 236.1L572.53 236.1L575.2 236.1" fill="none" stroke="#58c400" stroke-width="1.95" stroke-dasharray="10.67 10.67" stroke-linecap="round" stroke-linejoin="round"/>
<path d="M173.81 741.69L175.59 741.68L177.38 741.46L179.17 741.16L180.95 740.79L184.13 739.99L188.02 738.85L191.9 737.57L195.78 736.17L199.66 734.64L203.54 733.01L207.42 731.28L211.31 729.43L215.19 727.85L219.07 726.19L222.95 724.36L226.83 722.31L230.71 720.05L234.59 717.64L238.48 714.66L242.36 711.36L246.24 708.52L250.12 706L254 703.43L255.3 702.54L256.59 701.6L257.88 700.62L260.55 698.51L263.22 696.3L265.88 694.01L268.55 691.66L271.22 689.28L273.88 686.87L276.55 684.47L279.22 682.09L281.88 679.75L284.55 677.44L287.22 675.13L289.88 672.81L292.55 670.45L295.22 668.04L297.88 665.55L300.55 662.96L303.22 660.24L305.88 657.42L308.55 654.51L311.21 651.55L313.88 648.55L316.55 645.55L319.21 642.57L321.88 639.63L324.55 636.72L327.21 633.82L329.88 630.9L332.55 627.95L335.21 624.93L337.88 621.84L340.55 618.63L343.21 615.33L345.88 611.95L348.55 608.48L351.21 604.93L353.88 601.32L356.55 597.65L359.21 593.91L361.88 590.11L364.55 586.19L367.21 582.18L369.88 578.1L372.54 573.97L375.21 569.82L377.88 565.68L380.54 561.56L383.21 557.47L385.88 553.39L388.54 549.3L391.21 545.18L393.88 541.02L396.54 536.8L399.21 532.49L401.88 528.08L404.54 523.56L407.21 518.95L409.88 514.27L412.54 509.57L415.21 504.87L417.88 500.19L420.54 495.57L423.21 491.01L425.87 486.5L428.54 482.01L431.21 477.51L433.87 472.96L436.54 468.34L439.21 463.62L441.87 458.79L444.54 453.84L447.21 448.79L449.87 443.69L452.54 438.54L455.21 433.37L457.87 428.2L460.54 423.06L463.21 417.95L465.87 412.84L468.54 407.72L471.21 402.59L473.87 397.41L476.54 392.18L479.21 386.89L481.87 381.52L484.54 376.05L487.2 370.52L489.87 364.94L492.54 359.33L495.2 353.72L497.87 348.13L500.54 342.58L503.2 337.02L505.87 331.44L508.54 325.85L511.2 320.28L513.87 314.75L516.54 309.28L519.2 303.89L521.87 298.62L524.54 293.49L527.2 288.39L529.87 283.25L532.54 277.94L535.2 272.51L537.87 267.24L540.54 262.36L543.2 257.71L545.87 253.29L548.53 249.27L551.2 245.81L553.87 242.87L556.53 240.44L559.2 238.44L561.87 237.08L564.53 236.22L567.2 236.2L569.87 236.2L572.53 236.2L575.2 236.1" fill="none" stroke="#0a50c8" stroke-width="1.95" stroke-dasharray="10.67 10.67" stroke-linecap="round" stroke-linejoin="round"/>
<path d="M173.81 741.65L175.59 739.92L177.38 738.64L179.17 737.51L180.95 736.45L184.13 734.61L188.02 732.36L191.9 730.09L195.78 727.76L199.66 725.34L203.54 722.87L207.42 720.34L211.31 717.94L215.19 715.71L219.07 713.4L222.95 711.11L226.83 708.71L230.71 705.84L234.59 702.3L238.48 698.85L242.36 695.7L246.24 692.77L250.12 689.9L254 686.46L255.3 685.15L256.59 683.84L257.88 682.58L260.55 680.05L263.22 677.56L265.88 675.1L268.55 672.65L271.22 670.19L273.88 667.7L276.55 665.17L279.22 662.58L281.88 659.91L284.55 657.19L287.22 654.41L289.88 651.6L292.55 648.76L295.22 645.89L297.88 643L300.55 640.1L303.22 637.19L305.88 634.26L308.55 631.31L311.21 628.32L313.88 625.32L316.55 622.28L319.21 619.21L321.88 616.11L324.55 613.01L327.21 609.88L329.88 606.71L332.55 603.5L335.21 600.24L337.88 596.91L340.55 593.49L343.21 589.98L345.88 586.38L348.55 582.7L351.21 578.97L353.88 575.2L356.55 571.41L359.21 567.62L361.88 563.84L364.55 560.04L367.21 556.22L369.88 552.38L372.54 548.51L375.21 544.61L377.88 540.67L380.54 536.68L383.21 532.67L385.88 528.61L388.54 524.53L391.21 520.4L393.88 516.24L396.54 512.03L399.21 507.77L401.88 503.46L404.54 499.07L407.21 494.62L409.88 490.12L412.54 485.6L415.21 481.08L417.88 476.57L420.54 472.09L423.21 467.64L425.87 463.19L428.54 458.74L431.21 454.29L433.87 449.83L436.54 445.35L439.21 440.85L441.87 436.32L444.54 431.81L447.21 427.3L449.87 422.77L452.54 418.19L455.21 413.55L457.87 408.83L460.54 404.01L463.21 399.06L465.87 393.99L468.54 388.83L471.21 383.62L473.87 378.4L476.54 373.19L479.21 368.02L481.87 362.92L484.54 357.82L487.2 352.71L489.87 347.62L492.54 342.55L495.2 337.5L497.87 332.48L500.54 327.5L503.2 322.51L505.87 317.53L508.54 312.56L511.2 307.63L513.87 302.76L516.54 297.97L519.2 293.28L521.87 288.76L524.54 284.47L527.2 280.18L529.87 275.63L532.54 270.5L535.2 264.95L537.87 259.58L540.54 254.94L543.2 250.7L545.87 246.79L548.53 243.52L551.2 241.16L553.87 239.46L556.53 237.76L559.2 236.22L561.87 236.1L564.53 236.1L567.2 236.1L569.87 236.1L572.53 236.1L575.2 236.1" fill="none" stroke="#0a50c8" stroke-width="1.95" stroke-dasharray="10.67 10.67" stroke-linecap="round" stroke-linejoin="round"/>
<path d="M173.81 736.15L175.59 728.51L177.38 723.55L179.17 719.59L180.95 716.26L184.13 711.25L188.02 705.96L191.9 701.02L195.78 696.41L199.66 692.02L203.54 688.02L207.42 684.09L211.31 679.99L215.19 675.88L219.07 672.09L222.95 668.44L226.83 664.82L230.71 661.26L234.59 657.73L238.48 654.22L242.36 650.72L246.24 647.26L250.12 643.71L254 640.05L255.3 638.84L256.59 637.63L257.88 636.44L260.55 634L263.22 631.57L265.88 629.17L268.55 626.77L271.22 624.38L273.88 621.99L276.55 619.6L279.22 617.21L281.88 614.8L284.55 612.4L287.22 610.01L289.88 607.61L292.55 605.21L295.22 602.81L297.88 600.41L300.55 598L303.22 595.59L305.88 593.17L308.55 590.75L311.21 588.33L313.88 585.91L316.55 583.5L319.21 581.1L321.88 578.72L324.55 576.36L327.21 574L329.88 571.66L332.55 569.31L335.21 566.95L337.88 564.59L340.55 562.21L343.21 559.85L345.88 557.51L348.55 555.16L351.21 552.79L353.88 550.39L356.55 547.92L359.21 545.37L361.88 542.72L364.55 539.94L367.21 537.07L369.88 534.14L372.54 531.18L375.21 528.22L377.88 525.29L380.54 522.42L383.21 519.61L385.88 516.82L388.54 514.05L391.21 511.28L393.88 508.48L396.54 505.65L399.21 502.77L401.88 499.82L404.54 496.82L407.21 493.78L409.88 490.7L412.54 487.59L415.21 484.46L417.88 481.31L420.54 478.16L423.21 474.99L425.87 471.79L428.54 468.58L431.21 465.34L433.87 462.08L436.54 458.8L439.21 455.49L441.87 452.17L444.54 448.86L447.21 445.54L449.87 442.19L452.54 438.79L455.21 435.31L457.87 431.74L460.54 428.04L463.21 424.21L465.87 420.27L468.54 416.22L471.21 412.09L473.87 407.87L476.54 403.61L479.21 399.29L481.87 394.93L484.54 390.46L487.2 385.9L489.87 381.28L492.54 376.61L495.2 371.93L497.87 367.23L500.54 362.56L503.2 357.92L505.87 353.3L508.54 348.68L511.2 344.01L513.87 339.28L516.54 334.45L519.2 329.51L521.87 324.37L524.54 318.99L527.2 313.53L529.87 308.16L532.54 302.97L535.2 297.86L537.87 292.74L540.54 287.55L543.2 282.25L545.87 276.9L548.53 271.54L551.2 266.18L553.87 260.82L556.53 255.68L559.2 250.74L561.87 245.75L564.53 241.18L567.2 238.08L569.87 236.31L572.53 236.2L575.2 236.1" fill="none" stroke="#00ff00" stroke-width="1.95" stroke-linecap="round" stroke-linejoin="round"/>
<path d="M173.81 741.61L175.59 740.87L177.38 740.11L179.17 739.35L180.95 738.6L184.13 737.23L188.02 735.51L191.9 733.76L195.78 731.98L199.66 730L203.54 727.75L207.42 725.79L211.31 723.84L215.19 722.13L219.07 720.29L222.95 718.04L226.83 715.52L230.71 712.76L234.59 709.81L238.48 706.72L242.36 704.04L246.24 701.56L250.12 698.75L254 695.56L255.3 694.31L256.59 693.06L257.88 691.85L260.55 689.41L263.22 687.01L265.88 684.62L268.55 682.23L271.22 679.84L273.88 677.42L276.55 674.96L279.22 672.45L281.88 669.88L284.55 667.25L287.22 664.58L289.88 661.88L292.55 659.14L295.22 656.38L297.88 653.61L300.55 650.83L303.22 648.04L305.88 645.23L308.55 642.41L311.21 639.56L313.88 636.67L316.55 633.75L319.21 630.78L321.88 627.78L324.55 624.74L327.21 621.68L329.88 618.57L332.55 615.41L335.21 612.18L337.88 608.88L340.55 605.5L343.21 601.99L345.88 598.37L348.55 594.66L351.21 590.9L353.88 587.1L356.55 583.29L359.21 579.51L361.88 575.77L364.55 572.05L367.21 568.34L369.88 564.62L372.54 560.86L375.21 557.05L377.88 553.16L380.54 549.18L383.21 545.09L385.88 540.89L388.54 536.63L391.21 532.31L393.88 527.96L396.54 523.61L399.21 519.28L401.88 514.97L404.54 510.67L407.21 506.37L409.88 502.06L412.54 497.72L415.21 493.36L417.88 488.95L420.54 484.49L423.21 479.99L425.87 475.47L428.54 470.9L431.21 466.3L433.87 461.66L436.54 456.96L439.21 452.22L441.87 447.41L444.54 442.53L447.21 437.57L449.87 432.58L452.54 427.55L455.21 422.51L457.87 417.49L460.54 412.49L463.21 407.52L465.87 402.57L468.54 397.62L471.21 392.66L473.87 387.67L476.54 382.63L479.21 377.53L481.87 372.36L484.54 367.12L487.2 361.82L489.87 356.48L492.54 351.11L495.2 345.74L497.87 340.37L500.54 335.02L503.2 329.63L505.87 324.17L508.54 318.7L511.2 313.25L513.87 307.87L516.54 302.61L519.2 297.49L521.87 292.6L524.54 287.94L527.2 283.34L529.87 278.64L532.54 273.64L535.2 268.48L537.87 263.44L540.54 258.8L543.2 254.29L545.87 249.99L548.53 246.27L551.2 243.46L553.87 241.36L556.53 239.17L559.2 237.1L561.87 236.41L564.53 236.11L567.2 236.1L569.87 236.1L572.53 236.1L575.2 236.1" fill="none" stroke="#0000ff" stroke-width="1.95" stroke-linecap="round" stroke-linejoin="round"/>
<path d="M173.81 738.85L175.59 733.44L177.38 729.86L179.17 726.86L180.95 724.1L184.13 719.41L188.02 714.51L191.9 709.91L195.78 705.31L199.66 701.06L203.54 696.75L207.42 692.74L211.31 688.44L215.19 684.3L219.07 680.38L222.95 676.54L226.83 672.76L230.71 668.99L234.59 665.35L238.48 661.88L242.36 658.41L246.24 654.72L250.12 650.77L254 646.67L255.3 645.28L256.59 643.91L257.88 642.58L260.55 639.88L263.22 637.23L265.88 634.61L268.55 632.02L271.22 629.46L273.88 626.9L276.55 624.33L279.22 621.76L281.88 619.16L284.55 616.55L287.22 613.93L289.88 611.31L292.55 608.72L295.22 606.16L297.88 603.65L300.55 601.2L303.22 598.83L305.88 596.51L308.55 594.23L311.21 591.98L313.88 589.73L316.55 587.47L319.21 585.18L321.88 582.86L324.55 580.55L327.21 578.22L329.88 575.89L332.55 573.55L335.21 571.19L337.88 568.81L340.55 566.4L343.21 563.96L345.88 561.47L348.55 558.96L351.21 556.45L353.88 553.94L356.55 551.46L359.21 549.01L361.88 546.6L364.55 544.2L367.21 541.8L369.88 539.42L372.54 537.08L375.21 534.78L377.88 532.54L380.54 530.36L383.21 528.3L385.88 526.32L388.54 524.39L391.21 522.48L393.88 520.55L396.54 518.55L399.21 516.45L401.88 514.2L404.54 511.79L407.21 509.26L409.88 506.68L412.54 504.09L415.21 501.56L417.88 499.13L420.54 496.85L423.21 494.71L425.87 492.64L428.54 490.64L431.21 488.68L433.87 486.73L436.54 484.78L439.21 482.8L441.87 480.78L444.54 478.75L447.21 476.71L449.87 474.67L452.54 472.64L455.21 470.61L457.87 468.6L460.54 466.6L463.21 464.63L465.87 462.69L468.54 460.75L471.21 458.82L473.87 456.88L476.54 454.91L479.21 452.91L481.87 450.87L484.54 448.82L487.2 446.75L489.87 444.66L492.54 442.54L495.2 440.36L497.87 438.13L500.54 435.83L503.2 433.43L505.87 430.95L508.54 428.4L511.2 425.81L513.87 423.19L516.54 420.57L519.2 417.97L521.87 415.42L524.54 412.91L527.2 410.35L529.87 407.64L532.54 404.62L535.2 401.37L537.87 398.16L540.54 395.25L543.2 392.65L545.87 390.21L548.53 387.83L551.2 385.39L553.87 382.94L556.53 380.82L559.2 378.98L561.87 377.59L564.53 376.3L567.2 373.98L569.87 370.67L572.53 366.53L575.2 356L575.2 236.09" fill="none" stroke="#ff8c00" stroke-width="1.95" stroke-linecap="round" stroke-linejoin="round"/>
<path d="M173.81 739.85L175.59 736.89L177.38 734.15L179.17 731.59L180.95 729.2L184.13 725.2L188.02 720.74L191.9 716.62L195.78 712.9L199.66 709.53L203.54 706.13L207.42 702.75L211.31 699.39L215.19 696L219.07 692.47L222.95 689.16L226.83 685.98L230.71 682.8L234.59 679.62L238.48 676.45L242.36 673.27L246.24 670.09L250.12 666.9L254 663.69L255.3 662.61L256.59 661.54L257.88 660.48L260.55 658.32L263.22 656.18L265.88 654.06L268.55 651.94L271.22 649.81L273.88 647.65L276.55 645.44L279.22 643.18L281.88 640.83L284.55 638.39L287.22 635.87L289.88 633.32L292.55 630.76L295.22 628.24L297.88 625.78L300.55 623.42L303.22 621.13L305.88 618.89L308.55 616.69L311.21 614.51L313.88 612.37L316.55 610.24L319.21 608.12L321.88 606.03L324.55 603.99L327.21 602L329.88 600.01L332.55 598.02L335.21 595.99L337.88 593.91L340.55 591.75L343.21 589.51L345.88 587.21L348.55 584.87L351.21 582.48L353.88 580.07L356.55 577.65L359.21 575.22L361.88 572.77L364.55 570.27L367.21 567.72L369.88 565.16L372.54 562.62L375.21 560.11L377.88 557.68L380.54 555.33L383.21 553.07L385.88 550.86L388.54 548.71L391.21 546.58L393.88 544.47L396.54 542.36L399.21 540.23L401.88 538.09L404.54 535.95L407.21 533.81L409.88 531.68L412.54 529.55L415.21 527.42L417.88 525.29L420.54 523.17L423.21 521.05L425.87 518.95L428.54 516.85L431.21 514.74L433.87 512.63L436.54 510.5L439.21 508.35L441.87 506.16L444.54 503.92L447.21 501.66L449.87 499.38L452.54 497.11L455.21 494.85L457.87 492.63L460.54 490.47L463.21 488.39L465.87 486.38L468.54 484.4L471.21 482.42L473.87 480.4L476.54 478.3L479.21 476.09L481.87 473.71L484.54 471.14L487.2 468.44L489.87 465.66L492.54 462.85L495.2 460.09L497.87 457.42L500.54 454.91L503.2 452.51L505.87 450.18L508.54 447.91L511.2 445.67L513.87 443.45L516.54 441.22L519.2 438.98L521.87 436.73L524.54 434.51L527.2 432.26L529.87 429.92L532.54 427.43L535.2 424.84L537.87 422.16L540.54 419.46L543.2 416.89L545.87 414.27L548.53 411.3L551.2 407.49L553.87 402.4L556.53 398.07L559.2 394.25L561.87 389.67L564.53 384.76L567.2 380.95L569.87 377.22L572.53 371.9L575.2 355L575.2 236.09" fill="none" stroke="#000" stroke-width="1.95" stroke-linecap="round" stroke-linejoin="round"/>
<path d="M153.42 769.78L595.38 151.82" stroke="#ff0000" stroke-width="1.95" fill="none"/>
</g>
<rect class="ax" x="157.44" y="157.44" width="433.92" height="606.72"/>
<path class="ax" d="M173.51 764.16H575.29M173.51 764.16v19.2M253.87 764.16v19.2M334.22 764.16v19.2M414.58 764.16v19.2M494.93 764.16v19.2M575.29 764.16v19.2M157.44 741.69V179.91M157.44 741.69h-19.2M157.44 629.33h-19.2M157.44 516.98h-19.2M157.44 404.62h-19.2M157.44 292.27h-19.2M157.44 179.91h-19.2"/>
<text class="t" text-anchor="middle" x="173.51" y="834">0.0</text>
<text class="t" text-anchor="middle" x="253.87" y="834">0.2</text>
<text class="t" text-anchor="middle" x="334.22" y="834">0.4</text>
<text class="t" text-anchor="middle" x="414.58" y="834">0.6</text>
<text class="t" text-anchor="middle" x="494.93" y="834">0.8</text>
<text class="t" text-anchor="middle" x="575.29" y="834">1.0</text>
<text class="t" text-anchor="middle" transform="translate(111.44 741.69) rotate(-90)">0.0</text>
<text class="t" text-anchor="middle" transform="translate(111.44 629.33) rotate(-90)">0.2</text>
<text class="t" text-anchor="middle" transform="translate(111.44 516.98) rotate(-90)">0.4</text>
<text class="t" text-anchor="middle" transform="translate(111.44 404.62) rotate(-90)">0.6</text>
<text class="t" text-anchor="middle" transform="translate(111.44 292.27) rotate(-90)">0.8</text>
<text class="t" text-anchor="middle" transform="translate(111.44 179.91) rotate(-90)">1.0</text>
<text class="h" text-anchor="middle" x="374.4" y="93">Calibration of pFDR</text>
<text class="t" text-anchor="middle" x="374.4" y="911">Nominal False Discovery Rate</text>
<text class="t" text-anchor="middle" transform="translate(34.44 460.8) rotate(-90)">Average False Discovery Proportion</text>
<rect x="157.44" y="157.44" width="254" height="192" fill="#fff" stroke="#000" stroke-width="2"/>
<path d="M186.44 195.84h58" stroke="#00ff00" stroke-width="2" stroke-linecap="round" fill="none"/>
<text class="t" x="272.44" y="206.84">ASH</text>
<path d="M186.44 234.24h58" stroke="#0000ff" stroke-width="2" stroke-linecap="round" fill="none"/>
<text class="t" x="272.44" y="245.24">GD-ASH</text>
<path d="M186.44 272.64h58" stroke="#ff8c00" stroke-width="2" stroke-linecap="round" fill="none"/>
<text class="t" x="272.44" y="283.64">qvalue</text>
<path d="M186.44 311.04h58" stroke="#000" stroke-width="2" stroke-linecap="round" fill="none"/>
<text class="t" x="272.44" y="322.04">BH</text>
</g>
<g id="panel1">
<clipPath id="c1"><rect x="829.44" y="157.44" width="433.92" height="606.72"/></clipPath>
<g clip-path="url(#c1)">
<path d="M847 741.5L849.98 740.41L852.95 738.58L855.93 736.43L858.9 734.16L861.88 731.82L864.86 729.42L867.83 726.99L870.81 724.53L873.78 722.05L876.76 719.54L879.74 717.02L882.71 714.51L885.69 711.98L892.16 706.48L898.63 700.97L905.1 695.46L911.57 689.95L918.04 684.46L924.5 679L930.97 673.55L937.44 668.13L943.91 662.75L950.38 657.4L956.85 652.08L963.32 646.79L969.79 641.51L976.26 636.29L982.73 631.14L989.2 626.04L995.67 621.01L1002.14 616.09L1008.61 611.32L1015.07 606.58L1021.54 601.72L1028.01 596.73L1034.48 591.65L1040.95 586.55L1047.42 581.35L1053.89 576.12L1060.36 571.02L1066.83 566.1L1073.3 561.28L1079.77 556.47L1086.24 551.64L1092.71 546.82L1099.18 542.01L1105.65 537.22L1112.11 532.44L1118.58 527.65L1125.05 522.84L1131.52 518.03L1137.99 513.2L1144.46 508.36L1150.93 503.51L1157.4 498.65L1163.87 493.8L1170.34 488.95L1176.81 484.1L1183.28 479.22L1189.75 474.28L1196.22 469.39L1202.68 464.67L1209.15 460.15L1215.62 455.68L1222.09 451.11L1228.56 446.52L1235.03 441.81L1241.5 436.79L1247.97 431.27L1254.44 425.49L1260.91 419.79L1267.38 414.44L1267.38 252.93L1260.91 258.95L1254.44 265.28L1247.97 271.69L1241.5 277.85L1235.03 283.49L1228.56 288.81L1222.09 294.07L1215.62 299.43L1209.15 304.78L1202.68 310.2L1196.22 315.79L1189.75 321.54L1183.28 327.36L1176.81 333.16L1170.34 338.98L1163.87 344.81L1157.4 350.64L1150.93 356.45L1144.46 362.27L1137.99 368.12L1131.52 373.99L1125.05 379.88L1118.58 385.8L1112.11 391.73L1105.65 397.69L1099.18 403.66L1092.71 409.66L1086.24 415.69L1079.77 421.72L1073.3 427.74L1066.83 433.78L1060.36 439.86L1053.89 445.91L1047.42 451.98L1040.95 458.33L1034.48 465.22L1028.01 472.55L1021.54 479.89L1015.07 487.01L1008.61 494.06L1002.14 500.97L995.67 507.62L989.2 514.05L982.73 520.45L976.26 526.99L969.79 533.58L963.32 540.28L956.85 547.18L950.38 554.2L943.91 561.49L937.44 569.23L930.97 577.56L924.5 586.19L918.04 594.79L911.57 603.32L905.1 611.97L898.63 620.94L892.16 630.34L885.69 639.99L882.71 644.45L879.74 648.89L876.76 653.29L873.78 657.7L870.81 662.23L867.83 666.89L864.86 671.59L861.88 676.62L858.9 682.24L855.93 688.79L852.95 697.49L849.98 708.9L847 724Z" fill="#d9d9d9" fill-opacity="0.5" stroke="none"/>
<path d="M847 741.5L849.98 738.53L852.95 735.06L855.93 731.52L858.9 728.06L861.88 724.64L864.86 721.25L867.83 717.87L870.81 714.48L873.78 711.09L876.76 707.7L879.74 704.3L882.71 700.89L885.69 697.47L892.16 690.03L898.63 682.65L905.1 675.35L911.57 668.09L918.04 661L924.5 654.11L930.97 647.35L937.44 640.91L943.91 635.01L950.38 629.61L956.85 624.29L963.32 618.7L969.79 612.98L976.26 607.1L982.73 600.96L989.2 594.42L995.67 587.83L1002.14 581.59L1008.61 575.62L1015.07 569.86L1021.54 564.3L1028.01 559.14L1034.48 554.06L1040.95 548.54L1047.42 542.36L1053.89 535.81L1060.36 529.24L1066.83 522.7L1073.3 516.12L1079.77 509.63L1086.24 503.29L1092.71 497.04L1099.18 490.88L1105.65 484.8L1112.11 478.81L1118.58 472.89L1125.05 467.04L1131.52 461.27L1137.99 455.56L1144.46 449.87L1150.93 444.18L1157.4 438.7L1163.87 433.64L1170.34 428.97L1176.81 424.31L1183.28 419.33L1189.75 414.09L1196.22 408.7L1202.68 403.21L1209.15 397.61L1215.62 391.9L1222.09 386.12L1228.56 380.22L1235.03 374.26L1241.5 368.33L1247.97 362.41L1254.44 356.5L1260.91 350.64L1267.38 344.84L1267.38 150.89L1260.91 157.76L1254.44 164.78L1247.97 171.89L1241.5 178.97L1235.03 185.99L1228.56 192.99L1222.09 199.9L1215.62 206.63L1209.15 213.2L1202.68 219.75L1196.22 226.39L1189.75 233.06L1183.28 239.82L1176.81 246.77L1170.34 254L1163.87 261.22L1157.4 268.13L1150.93 274.76L1144.46 281.28L1137.99 287.84L1131.52 294.36L1125.05 300.92L1118.58 307.71L1112.11 314.81L1105.65 322.07L1099.18 329.32L1092.71 336.51L1086.24 343.71L1079.77 350.96L1073.3 358.22L1066.83 365.53L1060.36 372.98L1053.89 380.74L1047.42 388.69L1040.95 396.49L1034.48 403.9L1028.01 411.1L1021.54 418.27L1015.07 425.47L1008.61 432.61L1002.14 439.97L995.67 447.91L989.2 456.44L982.73 464.81L976.26 472.29L969.79 479.03L963.32 485.82L956.85 493.43L950.38 501.8L943.91 510.56L937.44 519.38L930.97 528.29L924.5 537.46L918.04 547.06L911.57 557.03L905.1 567.49L898.63 578.63L892.16 590.61L885.69 603.33L882.71 609.38L879.74 615.55L876.76 621.89L873.78 628.47L870.81 635.3L867.83 642.35L864.86 649.6L861.88 657.29L858.9 665.68L855.93 675.11L852.95 686.53L849.98 700.12L847 716Z" fill="#fedec0" fill-opacity="0.5" stroke="none"/>
<path d="M847 738L849.98 730.95L852.95 724.17L855.93 717.95L858.9 712.42L861.88 707.31L864.86 702.48L867.83 697.87L870.81 693.4L873.78 689.08L876.76 684.9L879.74 680.85L882.71 676.9L885.69 673.03L892.16 664.85L898.63 656.95L905.1 649.29L911.57 641.9L918.04 634.67L924.5 627.56L930.97 620.6L937.44 613.77L943.91 607.05L950.38 600.43L956.85 593.97L963.32 587.72L969.79 581.66L976.26 575.75L982.73 569.99L989.2 564.44L995.67 558.94L1002.14 553.32L1008.61 547.56L1015.07 541.77L1021.54 536.04L1028.01 530.39L1034.48 524.77L1040.95 519.18L1047.42 513.72L1053.89 508.27L1060.36 502.57L1066.83 496.37L1073.3 489.93L1079.77 483.81L1086.24 478.26L1092.71 473L1099.18 467.78L1105.65 462.46L1112.11 457.16L1118.58 451.86L1125.05 446.55L1131.52 441.24L1137.99 435.94L1144.46 430.7L1150.93 425.52L1157.4 420.22L1163.87 414.55L1170.34 408.49L1176.81 402.44L1183.28 396.8L1189.75 391.44L1196.22 386.23L1202.68 381.05L1209.15 375.94L1215.62 370.9L1222.09 365.89L1228.56 360.99L1235.03 356.08L1241.5 351L1247.97 345.69L1254.44 340.26L1260.91 334.79L1267.38 329.37L1267.38 104.53L1260.91 110.65L1254.44 116.72L1247.97 122.75L1241.5 128.79L1235.03 134.86L1228.56 140.93L1222.09 147.02L1215.62 153.14L1209.15 159.29L1202.68 165.44L1196.22 171.6L1189.75 177.77L1183.28 183.95L1176.81 190.18L1170.34 196.44L1163.87 202.73L1157.4 209.04L1150.93 215.36L1144.46 221.71L1137.99 228.08L1131.52 234.46L1125.05 240.87L1118.58 247.31L1112.11 253.79L1105.65 260.3L1099.18 266.83L1092.71 273.4L1086.24 280L1079.77 286.64L1073.3 293.32L1066.83 300.05L1060.36 306.82L1053.89 313.65L1047.42 320.52L1040.95 327.47L1034.48 334.49L1028.01 341.58L1021.54 348.77L1015.07 356L1008.61 363.26L1002.14 370.86L995.67 379.17L989.2 388.2L982.73 397.36L976.26 406.14L969.79 414.77L963.32 423.24L956.85 431.39L950.38 438.99L943.91 446.8L937.44 455.69L930.97 465.86L924.5 476.78L918.04 487.88L911.57 499.27L905.1 511.03L898.63 523.06L892.16 535.02L885.69 547.46L882.71 553.59L879.74 560.09L876.76 567.21L873.78 574.87L870.81 582.82L867.83 590.59L864.86 598.15L861.88 606.83L858.9 618.34L855.93 635.19L852.95 652.03L849.98 672.41L847 712Z" fill="#dffdc0" fill-opacity="0.5" stroke="none"/>
<path d="M847 741.7L849.98 741.8L852.95 741.76L855.93 741.65L858.9 741.33L861.88 740.96L864.86 740.53L867.83 740.06L870.81 739.56L873.78 739.03L876.76 738.46L879.74 737.86L882.71 737.2L885.69 736.51L892.16 734.89L898.63 733.17L905.1 731.38L911.57 729.49L918.04 727.51L924.5 725.46L930.97 723.31L937.44 721.09L943.91 718.82L950.38 716.49L956.85 714.09L963.32 711.62L969.79 709.06L976.26 706.44L982.73 703.77L989.2 701.05L995.67 698.28L1002.14 695.46L1008.61 692.59L1015.07 689.66L1021.54 686.68L1028.01 683.54L1034.48 680.4L1040.95 677.5L1047.42 674.94L1053.89 672.51L1060.36 669.95L1066.83 667.15L1073.3 664.21L1079.77 661.21L1086.24 658.17L1092.71 655.06L1099.18 651.82L1105.65 648.4L1112.11 644.81L1118.58 641.12L1125.05 637.36L1131.52 633.51L1137.99 629.55L1144.46 625.52L1150.93 621.44L1157.4 617.08L1163.87 612.16L1170.34 606.56L1176.81 600.81L1183.28 595.38L1189.75 590.06L1196.22 584.93L1202.68 580.19L1209.15 575.83L1215.62 571.64L1222.09 567.43L1228.56 563.26L1235.03 559.09L1241.5 554.79L1247.97 550.41L1254.44 545.93L1260.91 541.26L1267.38 536.36L1267.38 446.16L1260.91 452.45L1254.44 458.99L1247.97 465.53L1241.5 471.74L1235.03 477.41L1228.56 482.74L1222.09 487.8L1215.62 492.6L1209.15 497.09L1202.68 501.62L1196.22 506.53L1189.75 511.77L1183.28 517.12L1176.81 522.37L1170.34 527.51L1163.87 532.78L1157.4 538.46L1150.93 544.73L1144.46 551.09L1137.99 556.95L1131.52 562.44L1125.05 567.62L1118.58 572.41L1112.11 576.79L1105.65 580.9L1099.18 584.91L1092.71 588.77L1086.24 592.54L1079.77 596.34L1073.3 600.26L1066.83 604.21L1060.36 608.09L1053.89 611.81L1047.42 615.45L1040.95 619.14L1034.48 622.96L1028.01 626.85L1021.54 630.84L1015.07 634.94L1008.61 639.17L1002.14 643.42L995.67 647.59L989.2 651.75L982.73 655.87L976.26 659.96L969.79 664.03L963.32 668.05L956.85 672.03L950.38 675.97L943.91 679.86L937.44 683.72L930.97 687.51L924.5 691.28L918.04 695.04L911.57 698.8L905.1 702.55L898.63 706.3L892.16 710.03L885.69 713.77L882.71 715.5L879.74 717.26L876.76 719.01L873.78 720.77L870.81 722.59L867.83 724.49L864.86 726.44L861.88 728.47L858.9 730.59L855.93 732.84L852.95 735.42L849.98 738.32L847 741.5Z" fill="#bdd7f7" fill-opacity="0.5" stroke="none"/>
<path d="M847 741.5L849.98 740.41L852.95 738.58L855.93 736.43L858.9 734.16L861.88 731.82L864.86 729.42L867.83 726.99L870.81 724.53L873.78 722.05L876.76 719.54L879.74 717.02L882.71 714.51L885.69 711.98L892.16 706.48L898.63 700.97L905.1 695.46L911.57 689.95L918.04 684.46L924.5 679L930.97 673.55L937.44 668.13L943.91 662.75L950.38 657.4L956.85 652.08L963.32 646.79L969.79 641.51L976.26 636.29L982.73 631.14L989.2 626.04L995.67 621.01L1002.14 616.09L1008.61 611.32L1015.07 606.58L1021.54 601.72L1028.01 596.73L1034.48 591.65L1040.95 586.55L1047.42 581.35L1053.89 576.12L1060.36 571.02L1066.83 566.1L1073.3 561.28L1079.77 556.47L1086.24 551.64L1092.71 546.82L1099.18 542.01L1105.65 537.22L1112.11 532.44L1118.58 527.65L1125.05 522.84L1131.52 518.03L1137.99 513.2L1144.46 508.36L1150.93 503.51L1157.4 498.65L1163.87 493.8L1170.34 488.95L1176.81 484.1L1183.28 479.22L1189.75 474.28L1196.22 469.39L1202.68 464.67L1209.15 460.15L1215.62 455.68L1222.09 451.11L1228.56 446.52L1235.03 441.81L1241.5 436.79L1247.97 431.27L1254.44 425.49L1260.91 419.79L1267.38 414.44" fill="none" stroke="#4a4a4c" stroke-width="1.95" stroke-dasharray="10.67 10.67" stroke-linecap="round" stroke-linejoin="round"/>
<path d="M847 724L849.98 708.9L852.95 697.49L855.93 688.79L858.9 682.24L861.88 676.62L864.86 671.59L867.83 666.89L870.81 662.23L873.78 657.7L876.76 653.29L879.74 648.89L882.71 644.45L885.69 639.99L892.16 630.34L898.63 620.94L905.1 611.97L911.57 603.32L918.04 594.79L924.5 586.19L930.97 577.56L937.44 569.23L943.91 561.49L950.38 554.2L956.85 547.18L963.32 540.28L969.79 533.58L976.26 526.99L982.73 520.45L989.2 514.05L995.67 507.62L1002.14 500.97L1008.61 494.06L1015.07 487.01L1021.54 479.89L1028.01 472.55L1034.48 465.22L1040.95 458.33L1047.42 451.98L1053.89 445.91L1060.36 439.86L1066.83 433.78L1073.3 427.74L1079.77 421.72L1086.24 415.69L1092.71 409.66L1099.18 403.66L1105.65 397.69L1112.11 391.73L1118.58 385.8L1125.05 379.88L1131.52 373.99L1137.99 368.12L1144.46 362.27L1150.93 356.45L1157.4 350.64L1163.87 344.81L1170.34 338.98L1176.81 333.16L1183.28 327.36L1189.75 321.54L1196.22 315.79L1202.68 310.2L1209.15 304.78L1215.62 299.43L1222.09 294.07L1228.56 288.81L1235.03 283.49L1241.5 277.85L1247.97 271.69L1254.44 265.28L1260.91 258.95L1267.38 252.93" fill="none" stroke="#4a4a4c" stroke-width="1.95" stroke-dasharray="10.67 10.67" stroke-linecap="round" stroke-linejoin="round"/>
<path d="M847 741.5L849.98 738.53L852.95 735.06L855.93 731.52L858.9 728.06L861.88 724.64L864.86 721.25L867.83 717.87L870.81 714.48L873.78 711.09L876.76 707.7L879.74 704.3L882.71 700.89L885.69 697.47L892.16 690.03L898.63 682.65L905.1 675.35L911.57 668.09L918.04 661L924.5 654.11L930.97 647.35L937.44 640.91L943.91 635.01L950.38 629.61L956.85 624.29L963.32 618.7L969.79 612.98L976.26 607.1L982.73 600.96L989.2 594.42L995.67 587.83L1002.14 581.59L1008.61 575.62L1015.07 569.86L1021.54 564.3L1028.01 559.14L1034.48 554.06L1040.95 548.54L1047.42 542.36L1053.89 535.81L1060.36 529.24L1066.83 522.7L1073.3 516.12L1079.77 509.63L1086.24 503.29L1092.71 497.04L1099.18 490.88L1105.65 484.8L1112.11 478.81L1118.58 472.89L1125.05 467.04L1131.52 461.27L1137.99 455.56L1144.46 449.87L1150.93 444.18L1157.4 438.7L1163.87 433.64L1170.34 428.97L1176.81 424.31L1183.28 419.33L1189.75 414.09L1196.22 408.7L1202.68 403.21L1209.15 397.61L1215.62 391.9L1222.09 386.12L1228.56 380.22L1235.03 374.26L1241.5 368.33L1247.97 362.41L1254.44 356.5L1260.91 350.64L1267.38 344.84" fill="none" stroke="#c4560a" stroke-width="1.95" stroke-dasharray="10.67 10.67" stroke-linecap="round" stroke-linejoin="round"/>
<path d="M847 716L849.98 700.12L852.95 686.53L855.93 675.11L858.9 665.68L861.88 657.29L864.86 649.6L867.83 642.35L870.81 635.3L873.78 628.47L876.76 621.89L879.74 615.55L882.71 609.38L885.69 603.33L892.16 590.61L898.63 578.63L905.1 567.49L911.57 557.03L918.04 547.06L924.5 537.46L930.97 528.29L937.44 519.38L943.91 510.56L950.38 501.8L956.85 493.43L963.32 485.82L969.79 479.03L976.26 472.29L982.73 464.81L989.2 456.44L995.67 447.91L1002.14 439.97L1008.61 432.61L1015.07 425.47L1021.54 418.27L1028.01 411.1L1034.48 403.9L1040.95 396.49L1047.42 388.69L1053.89 380.74L1060.36 372.98L1066.83 365.53L1073.3 358.22L1079.77 350.96L1086.24 343.71L1092.71 336.51L1099.18 329.32L1105.65 322.07L1112.11 314.81L1118.58 307.71L1125.05 300.92L1131.52 294.36L1137.99 287.84L1144.46 281.28L1150.93 274.76L1157.4 268.13L1163.87 261.22L1170.34 254L1176.81 246.77L1183.28 239.82L1189.75 233.06L1196.22 226.39L1202.68 219.75L1209.15 213.2L1215.62 206.63L1222.09 199.9L1228.56 192.99L1235.03 185.99L1241.5 178.97L1247.97 171.89L1254.44 164.78L1260.91 157.76L1267.38 150.89" fill="none" stroke="#c4560a" stroke-width="1.95" stroke-dasharray="10.67 10.67" stroke-linecap="round" stroke-linejoin="round"/>
<path d="M847 738L849.98 730.95L852.95 724.17L855.93 717.95L858.9 712.42L861.88 707.31L864.86 702.48L867.83 697.87L870.81 693.4L873.78 689.08L876.76 684.9L879.74 680.85L882.71 676.9L885.69 673.03L892.16 664.85L898.63 656.95L905.1 649.29L911.57 641.9L918.04 634.67L924.5 627.56L930.97 620.6L937.44 613.77L943.91 607.05L950.38 600.43L956.85 593.97L963.32 587.72L969.79 581.66L976.26 575.75L982.73 569.99L989.2 564.44L995.67 558.94L1002.14 553.32L1008.61 547.56L1015.07 541.77L1021.54 536.04L1028.01 530.39L1034.48 524.77L1040.95 519.18L1047.42 513.72L1053.89 508.27L1060.36 502.57L1066.83 496.37L1073.3 489.93L1079.77 483.81L1086.24 478.26L1092.71 473L1099.18 467.78L1105.65 462.46L1112.11 457.16L1118.58 451.86L1125.05 446.55L1131.52 441.24L1137.99 435.94L1144.46 430.7L1150.93 425.52L1157.4 420.22L1163.87 414.55L1170.34 408.49L1176.81 402.44L1183.28 396.8L1189.75 391.44L1196.22 386.23L1202.68 381.05L1209.15 375.94L1215.62 370.9L1222.09 365.89L1228.56 360.99L1235.03 356.08L1241.5 351L1247.97 345.69L1254.44 340.26L1260.91 334.79L1267.38 329.37" fill="none" stroke="#58c400" stroke-width="1.95" stroke-dasharray="10.67 10.67" stroke-linecap="round" stroke-linejoin="round"/>
<path d="M847 712L849.98 672.41L852.95 652.03L855.93 635.19L858.9 618.34L861.88 606.83L864.86 598.15L867.83 590.59L870.81 582.82L873.78 574.87L876.76 567.21L879.74 560.09L882.71 553.59L885.69 547.46L892.16 535.02L898.63 523.06L905.1 511.03L911.57 499.27L918.04 487.88L924.5 476.78L930.97 465.86L937.44 455.69L943.91 446.8L950.38 438.99L956.85 431.39L963.32 423.24L969.79 414.77L976.26 406.14L982.73 397.36L989.2 388.2L995.67 379.17L1002.14 370.86L1008.61 363.26L1015.07 356L1021.54 348.77L1028.01 341.58L1034.48 334.49L1040.95 327.47L1047.42 320.52L1053.89 313.65L1060.36 306.82L1066.83 300.05L1073.3 293.32L1079.77 286.64L1086.24 280L1092.71 273.4L1099.18 266.83L1105.65 260.3L1112.11 253.79L1118.58 247.31L1125.05 240.87L1131.52 234.46L1137.99 228.08L1144.46 221.71L1150.93 215.36L1157.4 209.04L1163.87 202.73L1170.34 196.44L1176.81 190.18L1183.28 183.95L1189.75 177.77L1196.22 171.6L1202.68 165.44L1209.15 159.29L1215.62 153.14L1222.09 147.02L1228.56 140.93L1235.03 134.86L1241.5 128.79L1247.97 122.75L1254.44 116.72L1260.91 110.65L1267.38 104.53" fill="none" stroke="#58c400" stroke-width="1.95" stroke-dasharray="10.67 10.67" stroke-linecap="round" stroke-linejoin="round"/>
<path d="M847 741.7L849.98 741.8L852.95 741.76L855.93 741.65L858.9 741.33L861.88 740.96L864.86 740.53L867.83 740.06L870.81 739.56L873.78 739.03L876.76 738.46L879.74 737.86L882.71 737.2L885.69 736.51L892.16 734.89L898.63 733.17L905.1 731.38L911.57 729.49L918.04 727.51L924.5 725.46L930.97 723.31L937.44 721.09L943.91 718.82L950.38 716.49L956.85 714.09L963.32 711.62L969.79 709.06L976.26 706.44L982.73 703.77L989.2 701.05L995.67 698.28L1002.14 695.46L1008.61 692.59L1015.07 689.66L1021.54 686.68L1028.01 683.54L1034.48 680.4L1040.95 677.5L1047.42 674.94L1053.89 672.51L1060.36 669.95L1066.83 667.15L1073.3 664.21L1079.77 661.21L1086.24 658.17L1092.71 655.06L1099.18 651.82L1105.65 648.4L1112.11 644.81L1118.58 641.12L1125.05 637.36L1131.52 633.51L1137.99 629.55L1144.46 625.52L1150.93 621.44L1157.4 617.08L1163.87 612.16L1170.34 606.56L1176.81 600.81L1183.28 595.38L1189.75 590.06L1196.22 584.93L1202.68 580.19L1209.15 575.83L1215.62 571.64L1222.09 567.43L1228.56 563.26L1235.03 559.09L1241.5 554.79L1247.97 550.41L1254.44 545.93L1260.91 541.26L1267.38 536.36" fill="none" stroke="#0a50c8" stroke-width="1.95" stroke-dasharray="10.67 10.67" stroke-linecap="round" stroke-linejoin="round"/>
<path d="M847 741.5L849.98 738.32L852.95 735.42L855.93 732.84L858.9 730.59L861.88 728.47L864.86 726.44L867.83 724.49L870.81 722.59L873.78 720.77L876.76 719.01L879.74 717.26L882.71 715.5L885.69 713.77L892.16 710.03L898.63 706.3L905.1 702.55L911.57 698.8L918.04 695.04L924.5 691.28L930.97 687.51L937.44 683.72L943.91 679.86L950.38 675.97L956.85 672.03L963.32 668.05L969.79 664.03L976.26 659.96L982.73 655.87L989.2 651.75L995.67 647.59L1002.14 643.42L1008.61 639.17L1015.07 634.94L1021.54 630.84L1028.01 626.85L1034.48 622.96L1040.95 619.14L1047.42 615.45L1053.89 611.81L1060.36 608.09L1066.83 604.21L1073.3 600.26L1079.77 596.34L1086.24 592.54L1092.71 588.77L1099.18 584.91L1105.65 580.9L1112.11 576.79L1118.58 572.41L1125.05 567.62L1131.52 562.44L1137.99 556.95L1144.46 551.09L1150.93 544.73L1157.4 538.46L1163.87 532.78L1170.34 527.51L1176.81 522.37L1183.28 517.12L1189.75 511.77L1196.22 506.53L1202.68 501.62L1209.15 497.09L1215.62 492.6L1222.09 487.8L1228.56 482.74L1235.03 477.41L1241.5 471.74L1247.97 465.53L1254.44 458.99L1260.91 452.45L1267.38 446.16" fill="none" stroke="#0a50c8" stroke-width="1.95" stroke-dasharray="10.67 10.67" stroke-linecap="round" stroke-linejoin="round"/>
<path d="M847 714L849.98 699.71L852.95 686.85L855.93 675.81L858.9 666.59L861.88 658.45L864.86 650.98L867.83 644.02L870.81 637.44L873.78 631.2L876.76 625.31L879.74 619.77L882.71 614.54L885.69 609.52L892.16 599.22L898.63 589.51L905.1 580.27L911.57 571.54L918.04 563.06L924.5 554.65L930.97 546.4L937.44 538.33L943.91 530.48L950.38 522.82L956.85 515.32L963.32 507.89L969.79 500.53L976.26 493.34L982.73 486.43L989.2 479.84L995.67 473.37L1002.14 466.83L1008.61 460.28L1015.07 453.69L1021.54 446.98L1028.01 440.11L1034.48 433.17L1040.95 426.29L1047.42 419.43L1053.89 412.62L1060.36 406.04L1066.83 399.77L1073.3 393.68L1079.77 387.62L1086.24 381.51L1092.71 375.43L1099.18 369.37L1105.65 363.35L1112.11 357.37L1118.58 351.4L1125.05 345.46L1131.52 339.53L1137.99 333.63L1144.46 327.75L1150.93 321.9L1157.4 316.05L1163.87 310.2L1170.34 304.33L1176.81 298.48L1183.28 292.66L1189.75 286.86L1196.22 281.08L1202.68 275.3L1209.15 269.56L1215.62 263.78L1222.09 257.87L1228.56 251.81L1235.03 245.69L1241.5 239.59L1247.97 233.51L1254.44 227.44L1260.91 221.4L1267.38 215.44" fill="none" stroke="#00ff00" stroke-width="1.95" stroke-linecap="round" stroke-linejoin="round"/>
<path d="M847 741.3L849.98 740.11L852.95 738.87L855.93 737.61L858.9 736.36L861.88 735.1L864.86 733.81L867.83 732.53L870.81 731.26L873.78 730.01L876.76 728.76L879.74 727.51L882.71 726.25L885.69 724.98L892.16 722.2L898.63 719.4L905.1 716.56L911.57 713.68L918.04 710.78L924.5 707.89L930.97 704.99L937.44 702.07L943.91 699.12L950.38 696.16L956.85 693.13L963.32 689.95L969.79 686.65L976.26 683.23L982.73 679.67L989.2 675.84L995.67 672.01L1002.14 668.48L1008.61 665.28L1015.07 662.19L1021.54 659.03L1028.01 655.74L1034.48 652.46L1040.95 649.36L1047.42 646.57L1053.89 643.89L1060.36 641.03L1066.83 637.95L1073.3 634.69L1079.77 631.23L1086.24 627.48L1092.71 623.46L1099.18 619.33L1105.65 615.14L1112.11 610.83L1118.58 606.39L1125.05 601.8L1131.52 597.06L1137.99 592.21L1144.46 587.3L1150.93 582.29L1157.4 577.23L1163.87 572.12L1170.34 566.84L1176.81 561.79L1183.28 557.35L1189.75 553.47L1196.22 549.67L1202.68 545.52L1209.15 541.03L1215.62 536.38L1222.09 531.69L1228.56 527.02L1235.03 522.18L1241.5 516.93L1247.97 511.06L1254.44 504.82L1260.91 498.55L1267.38 492.52" fill="none" stroke="#0000ff" stroke-width="1.95" stroke-linecap="round" stroke-linejoin="round"/>
<path d="M847 727.5L849.98 717.28L852.95 708.22L855.93 700.44L858.9 693.92L861.88 688.03L864.86 682.56L867.83 677.37L870.81 672.35L873.78 667.53L876.76 662.87L879.74 658.3L882.71 653.75L885.69 649.2L892.16 639.51L898.63 630.27L905.1 621.7L911.57 613.63L918.04 605.78L924.5 597.99L930.97 590.37L937.44 582.81L943.91 575.15L950.38 567.42L956.85 559.8L963.32 552.5L969.79 545.49L976.26 538.56L982.73 531.48L989.2 524.22L995.67 517L1002.14 510.05L1008.61 503.47L1015.07 496.94L1021.54 490.13L1028.01 482.85L1034.48 475.44L1040.95 468.27L1047.42 461.43L1053.89 454.74L1060.36 448.13L1066.83 441.6L1073.3 435.15L1079.77 428.73L1086.24 422.32L1092.71 415.95L1099.18 409.61L1105.65 403.3L1112.11 397.03L1118.58 390.77L1125.05 384.49L1131.52 378.2L1137.99 372L1144.46 365.94L1150.93 360L1157.4 354.14L1163.87 348.35L1170.34 342.65L1176.81 336.95L1183.28 331.15L1189.75 325.31L1196.22 319.37L1202.68 313.22L1209.15 306.85L1215.62 300.34L1222.09 293.76L1228.56 287.08L1235.03 280.32L1241.5 273.52L1247.97 266.6L1254.44 259.64L1260.91 252.78L1267.38 246.12" fill="none" stroke="#ff8c00" stroke-width="1.95" stroke-linecap="round" stroke-linejoin="round"/>
<path d="M847 732.5L849.98 727.84L852.95 722.71L855.93 717.69L858.9 712.99L861.88 708.43L864.86 703.97L867.83 699.61L870.81 695.35L873.78 691.19L876.76 687.12L879.74 683.15L882.71 679.24L885.69 675.39L892.16 667.19L898.63 659.25L905.1 651.58L911.57 644.17L918.04 636.95L924.5 629.91L930.97 623.03L937.44 616.36L943.91 609.95L950.38 603.75L956.85 597.76L963.32 591.96L969.79 586.4L976.26 580.92L982.73 575.32L989.2 569.62L995.67 563.91L1002.14 558.23L1008.61 552.59L1015.07 546.97L1021.54 541.36L1028.01 535.78L1034.48 530.19L1040.95 524.57L1047.42 518.92L1053.89 513.23L1060.36 507.48L1066.83 501.56L1073.3 495.59L1079.77 489.8L1086.24 484.33L1092.71 479.04L1099.18 473.78L1105.65 468.46L1112.11 463.16L1118.58 457.86L1125.05 452.56L1131.52 447.25L1137.99 441.95L1144.46 436.64L1150.93 431.33L1157.4 426.03L1163.87 420.74L1170.34 415.47L1176.81 410.21L1183.28 404.92L1189.75 399.61L1196.22 394.3L1202.68 389L1209.15 383.7L1215.62 378.4L1222.09 373.08L1228.56 367.75L1235.03 362.41L1241.5 357.06L1247.97 351.69L1254.44 346.31L1260.91 340.95L1267.38 335.64" fill="none" stroke="#000" stroke-width="1.95" stroke-linecap="round" stroke-linejoin="round"/>
<path d="M825.42 769.78L1267.38 151.82" stroke="#ff0000" stroke-width="1.95" fill="none"/>
</g>
<rect class="ax" x="829.44" y="157.44" width="433.92" height="606.72"/>
<path class="ax" d="M845.51 764.16H1247.29M845.51 764.16v19.2M945.96 764.16v19.2M1046.4 764.16v19.2M1146.84 764.16v19.2M1247.29 764.16v19.2M829.44 741.69V179.91M829.44 741.69h-19.2M829.44 601.24h-19.2M829.44 460.8h-19.2M829.44 320.36h-19.2M829.44 179.91h-19.2"/>
<text class="t" text-anchor="middle" x="845.51" y="834">0.00</text>
<text class="t" text-anchor="middle" x="945.96" y="834">0.05</text>
<text class="t" text-anchor="middle" x="1046.4" y="834">0.10</text>
<text class="t" text-anchor="middle" x="1146.84" y="834">0.15</text>
<text class="t" text-anchor="middle" x="1247.29" y="834">0.20</text>
<text class="t" text-anchor="middle" transform="translate(783.44 741.69) rotate(-90)">0.00</text>
<text class="t" text-anchor="middle" transform="translate(783.44 601.24) rotate(-90)">0.05</text>
<text class="t" text-anchor="middle" transform="translate(783.44 460.8) rotate(-90)">0.10</text>
<text class="t" text-anchor="middle" transform="translate(783.44 320.36) rotate(-90)">0.15</text>
<text class="t" text-anchor="middle" transform="translate(783.44 179.91) rotate(-90)">0.20</text>
<text class="h" text-anchor="middle" x="1046.4" y="93">Calibration of pFDR: Zoom-in</text>
<text class="t" text-anchor="middle" x="1046.4" y="911">Nominal False Discovery Rate</text>
<text class="t" text-anchor="middle" transform="translate(706.44 460.8) rotate(-90)">Average False Discovery Proportion</text>
<rect x="829.44" y="157.44" width="254" height="192" fill="#fff" stroke="#000" stroke-width="2"/>
<path d="M858.44 195.84h58" stroke="#00ff00" stroke-width="2" stroke-linecap="round" fill="none"/>
<text class="t" x="944.44" y="206.84">ASH</text>
<path d="M858.44 234.24h58" stroke="#0000ff" stroke-width="2" stroke-linecap="round" fill="none"/>
<text class="t" x="944.44" y="245.24">GD-ASH</text>
<path d="M858.44 272.64h58" stroke="#ff8c00" stroke-width="2" stroke-linecap="round" fill="none"/>
<text class="t" x="944.44" y="283.64">qvalue</text>
<path d="M858.44 311.04h58" stroke="#000" stroke-width="2" stroke-linecap="round" fill="none"/>
<text class="t" x="944.44" y="322.04">BH</text>
</g>
</svg>
</body></html>
